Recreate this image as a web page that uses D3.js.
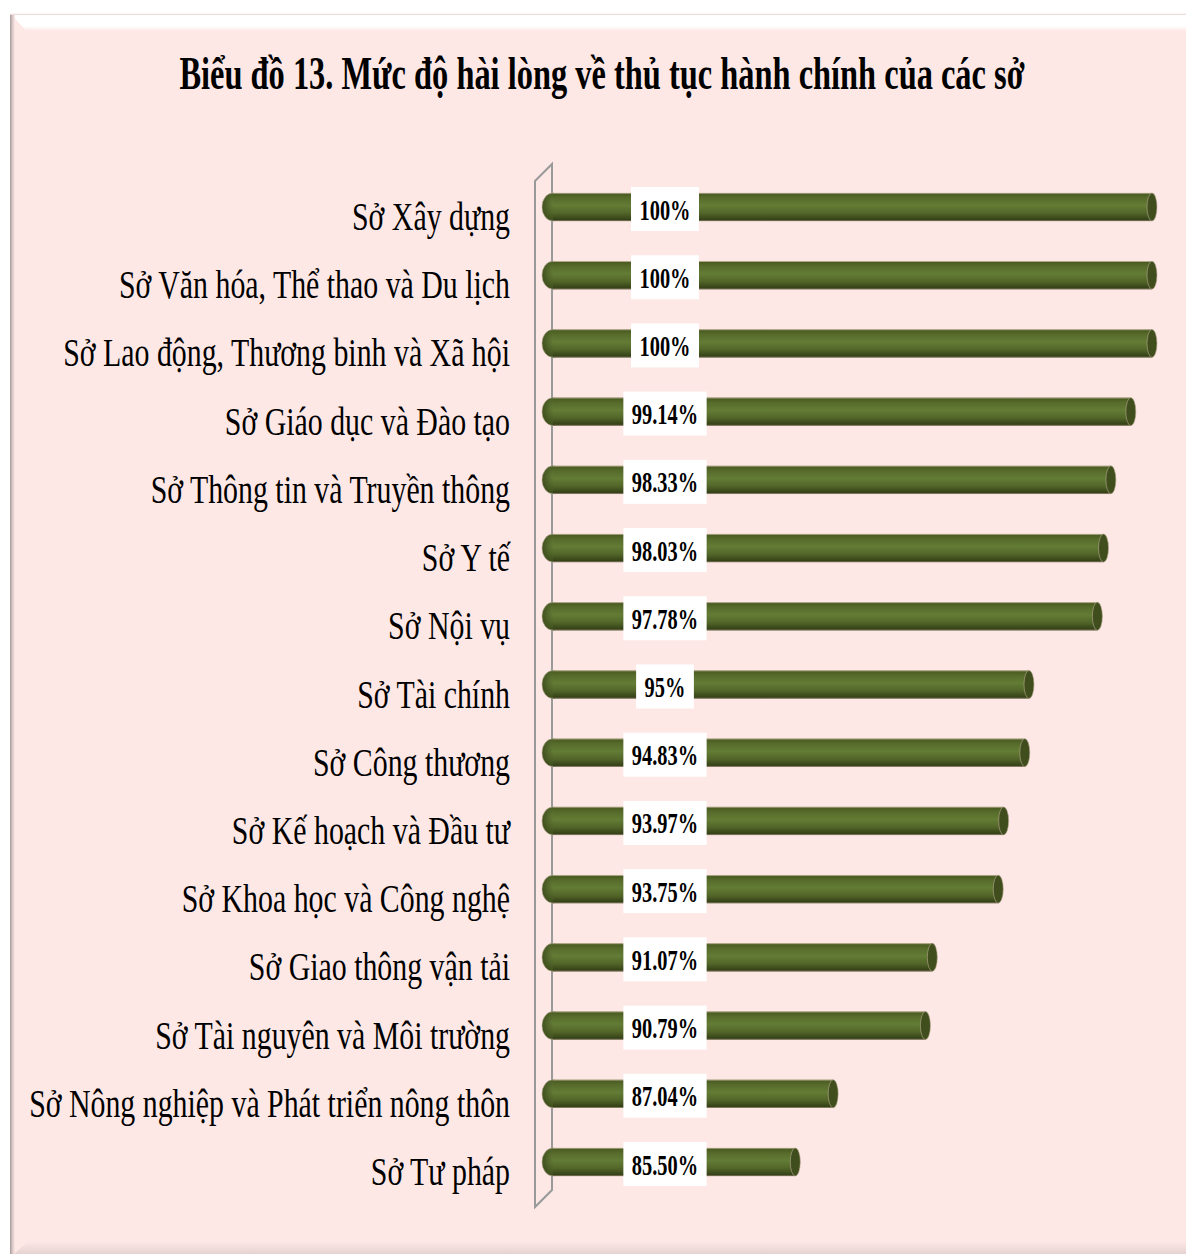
<!DOCTYPE html>
<html>
<head>
<meta charset="utf-8">
<script src="https://cdn.jsdelivr.net/npm/d3@7"></script>
<style>
  html, body { margin: 0; padding: 0; background: #ffffff; }
  svg { display: block; }
</style>
</head>
<body>
<script>
// Satisfaction with administrative procedures, by provincial department
const categories = [
  "Sở Xây dựng",
  "Sở Văn hóa, Thể thao và Du lịch",
  "Sở Lao động, Thương binh và Xã hội",
  "Sở Giáo dục và Đào tạo",
  "Sở Thông tin và Truyền thông",
  "Sở Y tế",
  "Sở Nội vụ",
  "Sở Tài chính",
  "Sở Công thương",
  "Sở Kế hoạch và Đầu tư",
  "Sở Khoa học và Công nghệ",
  "Sở Giao thông vận tải",
  "Sở Tài nguyên và Môi trường",
  "Sở Nông nghiệp và Phát triển nông thôn",
  "Sở Tư pháp"
];
const values = [100, 100, 100, 99.14, 98.33, 98.03, 97.78, 95, 94.83, 93.97, 93.75, 91.07, 90.79, 87.04, 85.50];
const valueLabels = ["100%", "100%", "100%", "99.14%", "98.33%", "98.03%", "97.78%", "95%", "94.83%", "93.97%", "93.75%", "91.07%", "90.79%", "87.04%", "85.50%"];
const axisDomain = [75, 100];
const titleText = "Biểu đồ 13. Mức độ hài lòng về thủ tục hành chính của các sở";

const W = 1186, H = 1254;
const PINK = "#fde8e6";
const SERIF = "'Liberation Serif', 'Times New Roman', serif";

const svg = d3.select("body").append("svg").attr("width", W).attr("height", H);
const defs = svg.append("defs");

// ---------- frame ----------
const topBevel = defs.append("linearGradient").attr("id", "topBevel").attr("x1", 0).attr("y1", 0).attr("x2", 0).attr("y2", 1);
topBevel.append("stop").attr("offset", "0%").attr("stop-color", "#ffffff");
topBevel.append("stop").attr("offset", "70%").attr("stop-color", "#ffffff");
topBevel.append("stop").attr("offset", "100%").attr("stop-color", PINK);

const botBevel = defs.append("linearGradient").attr("id", "botBevel").attr("x1", 0).attr("y1", 0).attr("x2", 0).attr("y2", 1);
botBevel.append("stop").attr("offset", "0%").attr("stop-color", PINK);
botBevel.append("stop").attr("offset", "100%").attr("stop-color", "#e6d2d0");

const leftEdge = defs.append("linearGradient").attr("id", "leftEdge").attr("x1", 0).attr("y1", 0).attr("x2", 1).attr("y2", 0);
leftEdge.append("stop").attr("offset", "0%").attr("stop-color", "#a89a9a");
leftEdge.append("stop").attr("offset", "50%").attr("stop-color", "#d8c8c8");
leftEdge.append("stop").attr("offset", "100%").attr("stop-color", PINK);

svg.append("rect").attr("x", 0).attr("y", 0).attr("width", W).attr("height", H).attr("fill", "#ffffff");
svg.append("rect").attr("x", 10).attr("y", 14).attr("width", W).attr("height", H).attr("fill", PINK);
svg.append("line").attr("x1", 10).attr("x2", W).attr("y1", 14.5).attr("y2", 14.5).attr("stroke", "#ecdcdc").attr("stroke-width", 1.5);
svg.append("path").attr("d", `M12,15 L${W},15 L${W},31 L26,31 Z`).attr("fill", "url(#topBevel)");
svg.append("rect").attr("x", 10).attr("y", 15).attr("width", 5).attr("height", H).attr("fill", "url(#leftEdge)");
svg.append("path").attr("d", `M14,${H} L${W},${H} L${W},1241 L28,1241 Z`).attr("fill", "url(#botBevel)");

// ---------- title ----------
svg.append("g")
  .attr("transform", `translate(602,89) scale(0.705,1)`)
  .append("text")
  .attr("text-anchor", "middle")
  .attr("font-family", SERIF)
  .attr("font-weight", "bold")
  .attr("font-size", 46)
  .attr("fill", "#000")
  .text(titleText);

// ---------- scales ----------
const x = d3.scaleLinear().domain(axisDomain).range([542, 1157]);
const y = d3.scalePoint().domain(categories).range([207, 1162]);
const barH = 28;

// ---------- 3D wall on the category side ----------
const wallTop = y.range()[0] - 43, wallBot = y.range()[1] + 28, depth = 17, lean = 17;
svg.append("path")
  .attr("d", `M535,${wallTop + lean} L${535 + depth},${wallTop} L${535 + depth},${wallBot} L535,${wallBot + lean} Z`)
  .attr("fill", "none")
  .attr("stroke", "#9a9a9a")
  .attr("stroke-width", 2)
  .attr("stroke-linejoin", "miter");

// ---------- cylinder bars ----------
const body = defs.append("linearGradient").attr("id", "cyl").attr("x1", 0).attr("y1", 0).attr("x2", 0).attr("y2", 1);
[["0%", "#47581f"], ["18%", "#576b2b"], ["45%", "#637c35"], ["72%", "#536629"], ["100%", "#2f3a14"]]
  .forEach(([o, c]) => body.append("stop").attr("offset", o).attr("stop-color", c));

const capL = defs.append("radialGradient").attr("id", "capL").attr("cx", "55%").attr("cy", "40%").attr("r", "65%");
capL.append("stop").attr("offset", "0%").attr("stop-color", "#667e39");
capL.append("stop").attr("offset", "100%").attr("stop-color", "#3a4919");

const bars = svg.append("g").selectAll("g.bar")
  .data(categories.map((c, i) => ({ c, v: values[i], lab: valueLabels[i] })))
  .join("g").attr("class", "bar");

const capRx = 11, endRx = 5;
bars.append("ellipse")
  .attr("cx", x(axisDomain[0]) + capRx)
  .attr("cy", d => y(d.c))
  .attr("rx", capRx).attr("ry", barH / 2)
  .attr("fill", "url(#capL)")
  .attr("stroke", "#b9aa92").attr("stroke-width", 0.6);
bars.append("rect")
  .attr("x", x(axisDomain[0]) + capRx)
  .attr("y", d => y(d.c) - barH / 2)
  .attr("width", d => x(d.v) - endRx - x(axisDomain[0]) - capRx)
  .attr("height", barH)
  .attr("fill", "url(#cyl)");
bars.append("line")
  .attr("x1", x(axisDomain[0]) + capRx).attr("x2", d => x(d.v) - endRx)
  .attr("y1", d => y(d.c) - barH / 2 + 0.3).attr("y2", d => y(d.c) - barH / 2 + 0.3)
  .attr("stroke", "#c2b49a").attr("stroke-width", 0.8);
bars.append("line")
  .attr("x1", x(axisDomain[0]) + capRx).attr("x2", d => x(d.v) - endRx)
  .attr("y1", d => y(d.c) + barH / 2 - 0.3).attr("y2", d => y(d.c) + barH / 2 - 0.3)
  .attr("stroke", "#8c8068").attr("stroke-width", 0.8);
bars.append("ellipse")
  .attr("cx", d => x(d.v) - endRx)
  .attr("cy", d => y(d.c))
  .attr("rx", endRx).attr("ry", barH / 2)
  .attr("fill", "#3f4e1c")
  .attr("stroke", "#b9aa92").attr("stroke-width", 0.6);

// ---------- value labels ----------
const labelFont = 30, labelSX = 0.68;
const labelX = x(80);
bars.each(function (d) {
  const g = d3.select(this).append("g").attr("transform", `translate(${labelX},${y(d.c) + 2})`);
  const t = g.append("text")
    .attr("transform", `scale(${labelSX},1)`)
    .attr("text-anchor", "middle")
    .attr("dy", "0.35em")
    .attr("font-family", SERIF)
    .attr("font-weight", "bold")
    .attr("font-size", labelFont)
    .attr("fill", "#000")
    .text(d.lab);
  const w = t.node().getComputedTextLength() * labelSX + 17;
  g.insert("rect", "text")
    .attr("x", -w / 2).attr("y", -22)
    .attr("width", w).attr("height", 44)
    .attr("fill", "#ffffff");
});

// ---------- category labels ----------
svg.append("g").selectAll("g")
  .data(categories)
  .join("g")
  .attr("transform", d => `translate(510,${y(d) + 23}) scale(0.728,1)`)
  .append("text")
  .attr("text-anchor", "end")
  .attr("font-family", SERIF)
  .attr("font-size", 41)
  .attr("fill", "#000")
  .text(d => d);
</script>
</body>
</html>
